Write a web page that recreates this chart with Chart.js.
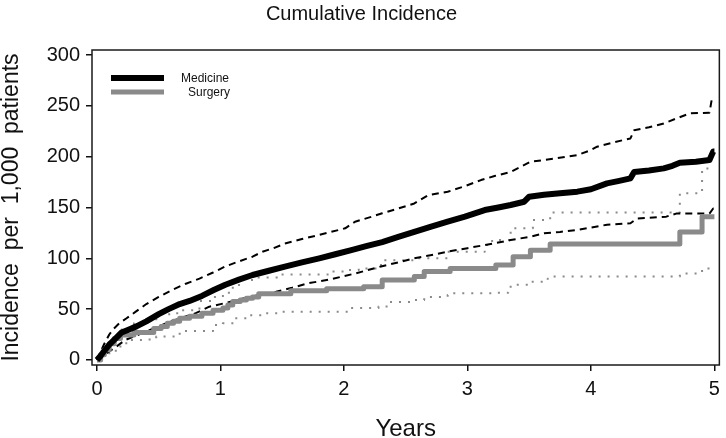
<!DOCTYPE html>
<html>
<head>
<meta charset="utf-8">
<script src="https://cdn.jsdelivr.net/npm/chart.js@4.4.1/dist/chart.umd.min.js"></script>
<style>
  body { margin: 0; background: #fff; }
</style>
</head>
<body>
<canvas id="chart" width="726" height="438"></canvas>
<script>
// tick labels
const xTicks = [0, 1, 2, 3, 4, 5];
const yTicks = [0, 50, 100, 150, 200, 250, 300];

// Medicine - cumulative incidence (time in years, value per 1,000)
const medT = [0,0.03,0.06,0.1,0.15,0.2,0.26,0.32,0.4,0.5,0.58,0.67,0.75,0.85,0.95,1.04,1.15,1.26,1.4,1.53,1.66,1.8,1.93,2.06,2.18,2.31,2.44,2.57,2.7,2.84,2.98,3.14,3.25,3.35,3.46,3.5,3.62,3.75,3.89,4.0,4.13,4.22,4.32,4.35,4.47,4.59,4.66,4.72,4.85,4.96,4.99,5.0];
const medV = [0,4,9,15,21,27,30,33,38,45,50,55,58,63,69,74,79,83.6,88,92,96,100,104,108,112,116,121,126,131,136,141,147.5,150,152.5,155.7,160.6,162.5,164,165.6,168,173.8,176,178.7,185,186.5,188.5,191,194,195,196.7,205,205];

// Medicine upper / lower 95% CI
const medHiT = [0,0.03,0.06,0.1,0.13,0.18,0.24,0.32,0.4,0.5,0.61,0.72,0.83,0.94,1.04,1.15,1.26,1.34,1.43,1.53,1.66,1.8,2.01,2.09,2.2,2.31,2.44,2.57,2.68,2.84,2.98,3.11,3.22,3.35,3.51,3.7,3.89,4.0,4.05,4.18,4.32,4.35,4.47,4.59,4.7,4.8,4.96,4.98,5.0];
const medHiV = [0,8,16,25,30,36,41,48,55,62,69,75,80,86,92,97,101.6,106.5,110,114.8,119,123,129.5,136,140,144.3,149,154,162,165.5,171,177,181,185,195,198,201.6,206.5,209.8,214,218,226,229,232.7,238,242.6,243.3,257.4,259];
const medLoT = [0,0.04,0.07,0.14,0.23,0.32,0.4,0.5,0.6,0.7,0.8,0.91,1.04,1.2,1.32,1.45,1.58,1.71,1.88,2.09,2.3,2.44,2.57,2.7,2.84,3.0,3.14,3.25,3.35,3.5,3.62,3.75,3.89,4.13,4.32,4.37,4.61,4.69,4.96,4.99,5.0];
const medLoV = [0,3,6,11.5,19.7,24,28,33,38,42,46,52.4,56,61,64,67,71,75.4,79,85,92,96,100,103,106.5,110,113,115.5,118,121,124.6,126,128,133,134.5,139,141,144,144,149,149];

// Surgery - cumulative incidence (step function)
const surT = [0,0.03,0.06,0.1,0.14,0.19,0.3,0.46,0.52,0.57,0.62,0.67,0.75,0.85,0.94,1.02,1.06,1.1,1.16,1.21,1.26,1.31,1.57,1.86,2.16,2.31,2.57,2.65,2.86,3.23,3.37,3.51,3.67,4.72,4.9,5.0];
const surV = [0,5,10,16,21,24.6,27,31,33,36,38,41,43,46,49,51,54,57.4,59,60.7,62,65,68,70,72,78.7,82,86.9,90,93.4,101.6,108,114,126,141,141];

// Surgery upper / lower 95% CI
const surHiT = [0,0.05,0.1,0.2,0.3,0.4,0.51,0.65,0.83,0.94,1.02,1.1,1.15,1.3,1.47,1.88,2.0,2.12,2.3,2.57,2.84,3.14,3.2,3.35,3.53,3.67,4.72,4.9,5.0];
const surHiV = [0,10,19.7,30,36,40,45,49,58,62,66,72,78.7,81,84,87,88.5,90,98,100,106.5,113,118,129.5,137.7,145,164,188.5,188.5];
const surLoT = [0,0.05,0.1,0.19,0.27,0.4,0.48,0.67,0.94,1.02,1.12,1.21,1.34,1.47,2.04,2.28,2.36,2.57,2.65,2.84,2.86,3.2,3.33,3.35,3.5,3.65,3.67,4.72,4.9,5.0];
const surLoV = [0,4,9,16.4,19.7,20,23,28.5,34.4,36,41,44,46,47.5,51,52.5,57,59,62,64,65.6,66,69,74,77,80,82,85,90,92];

function pts(ts, vs) {
  return ts.map((t, i) => ({ x: t, y: vs[i] }));
}

const FONT = "'Liberation Sans', Arial, Helvetica, sans-serif";
const GRAY = '#8a8a8a';

// box round the plot + legend inside, top left
const boxAndLegend = {
  id: 'boxAndLegend',
  afterDatasetsDraw(chart) {
    const { ctx, chartArea: a } = chart;
    ctx.save();
    ctx.strokeStyle = '#1a1a1a';
    ctx.lineWidth = 1.5;
    ctx.strokeRect(a.left, a.top, a.right - a.left, a.bottom - a.top);

    ctx.lineCap = 'butt';
    ctx.lineWidth = 6;
    ctx.strokeStyle = '#000';
    ctx.beginPath();
    ctx.moveTo(a.left + 19, a.top + 28);
    ctx.lineTo(a.left + 72, a.top + 28);
    ctx.stroke();
    ctx.lineWidth = 5;
    ctx.strokeStyle = GRAY;
    ctx.beginPath();
    ctx.moveTo(a.left + 19, a.top + 42);
    ctx.lineTo(a.left + 72, a.top + 42);
    ctx.stroke();

    ctx.fillStyle = '#111';
    ctx.font = '12px ' + FONT;
    ctx.textBaseline = 'middle';
    ctx.fillText('Medicine', a.left + 89, a.top + 29);
    ctx.fillText('Surgery', a.left + 96, a.top + 43);
    ctx.restore();
  }
};

new Chart(document.getElementById('chart'), {
  type: 'line',
  data: {
    datasets: [
      { label: 'Medicine', data: pts(medT, medV), borderColor: '#000', borderWidth: 6 },
      { label: 'Surgery', data: pts(surT, surV), borderColor: GRAY, borderWidth: 5, stepped: true },
      { label: 'Medicine upper', data: pts(medHiT, medHiV), borderColor: '#000', borderWidth: 2, borderDash: [7, 5] },
      { label: 'Medicine lower', data: pts(medLoT, medLoV), borderColor: '#000', borderWidth: 2, borderDash: [7, 5] },
      { label: 'Surgery upper', data: pts(surHiT, surHiV), borderColor: GRAY, borderWidth: 2, borderDash: [2, 7], stepped: true },
      { label: 'Surgery lower', data: pts(surLoT, surLoV), borderColor: GRAY, borderWidth: 2, borderDash: [2, 7], stepped: true }
    ]
  },
  options: {
    responsive: false,
    animation: false,
    layout: { padding: { left: 0, right: 3, top: 0, bottom: 0 } },
    elements: { point: { radius: 0 }, line: { fill: false, tension: 0, borderJoinStyle: 'round' } },
    plugins: {
      legend: { display: false },
      tooltip: { enabled: false },
      title: {
        display: true,
        text: 'Cumulative Incidence',
        color: '#111',
        font: { family: FONT, size: 20, weight: 'normal', lineHeight: 1.2 },
        padding: { top: 2, bottom: 24 }
      }
    },
    scales: {
      x: {
        type: 'linear',
        min: -0.04,
        max: 5.04,
        afterBuildTicks: (s) => { s.ticks = xTicks.map(v => ({ value: v })); },
        afterFit: (s) => { s.height = 73; },
        grid: { drawOnChartArea: false, drawTicks: true, tickLength: 6, color: '#111', lineWidth: 1.5 },
        border: { display: false },
        ticks: { color: '#111', padding: 6, maxRotation: 0, font: { family: FONT, size: 20 } },
        title: { display: true, text: 'Years', color: '#111', padding: { top: 0, bottom: -3 }, font: { family: FONT, size: 24, lineHeight: 1 } }
      },
      y: {
        type: 'linear',
        min: -5,
        max: 305,
        afterBuildTicks: (s) => { s.ticks = yTicks.map(v => ({ value: v })); },
        afterFit: (s) => { s.width = 92; },
        grid: { drawOnChartArea: false, drawTicks: true, tickLength: 6, color: '#111', lineWidth: 1.5 },
        border: { display: false },
        ticks: { color: '#111', padding: 6, font: { family: FONT, size: 20 } },
        title: { display: true, text: 'Incidence  per  1,000  patients', color: '#111', padding: 0, font: { family: FONT, size: 23, lineHeight: 1 } }
      }
    }
  },
  plugins: [boxAndLegend]
});
</script>
</body>
</html>
